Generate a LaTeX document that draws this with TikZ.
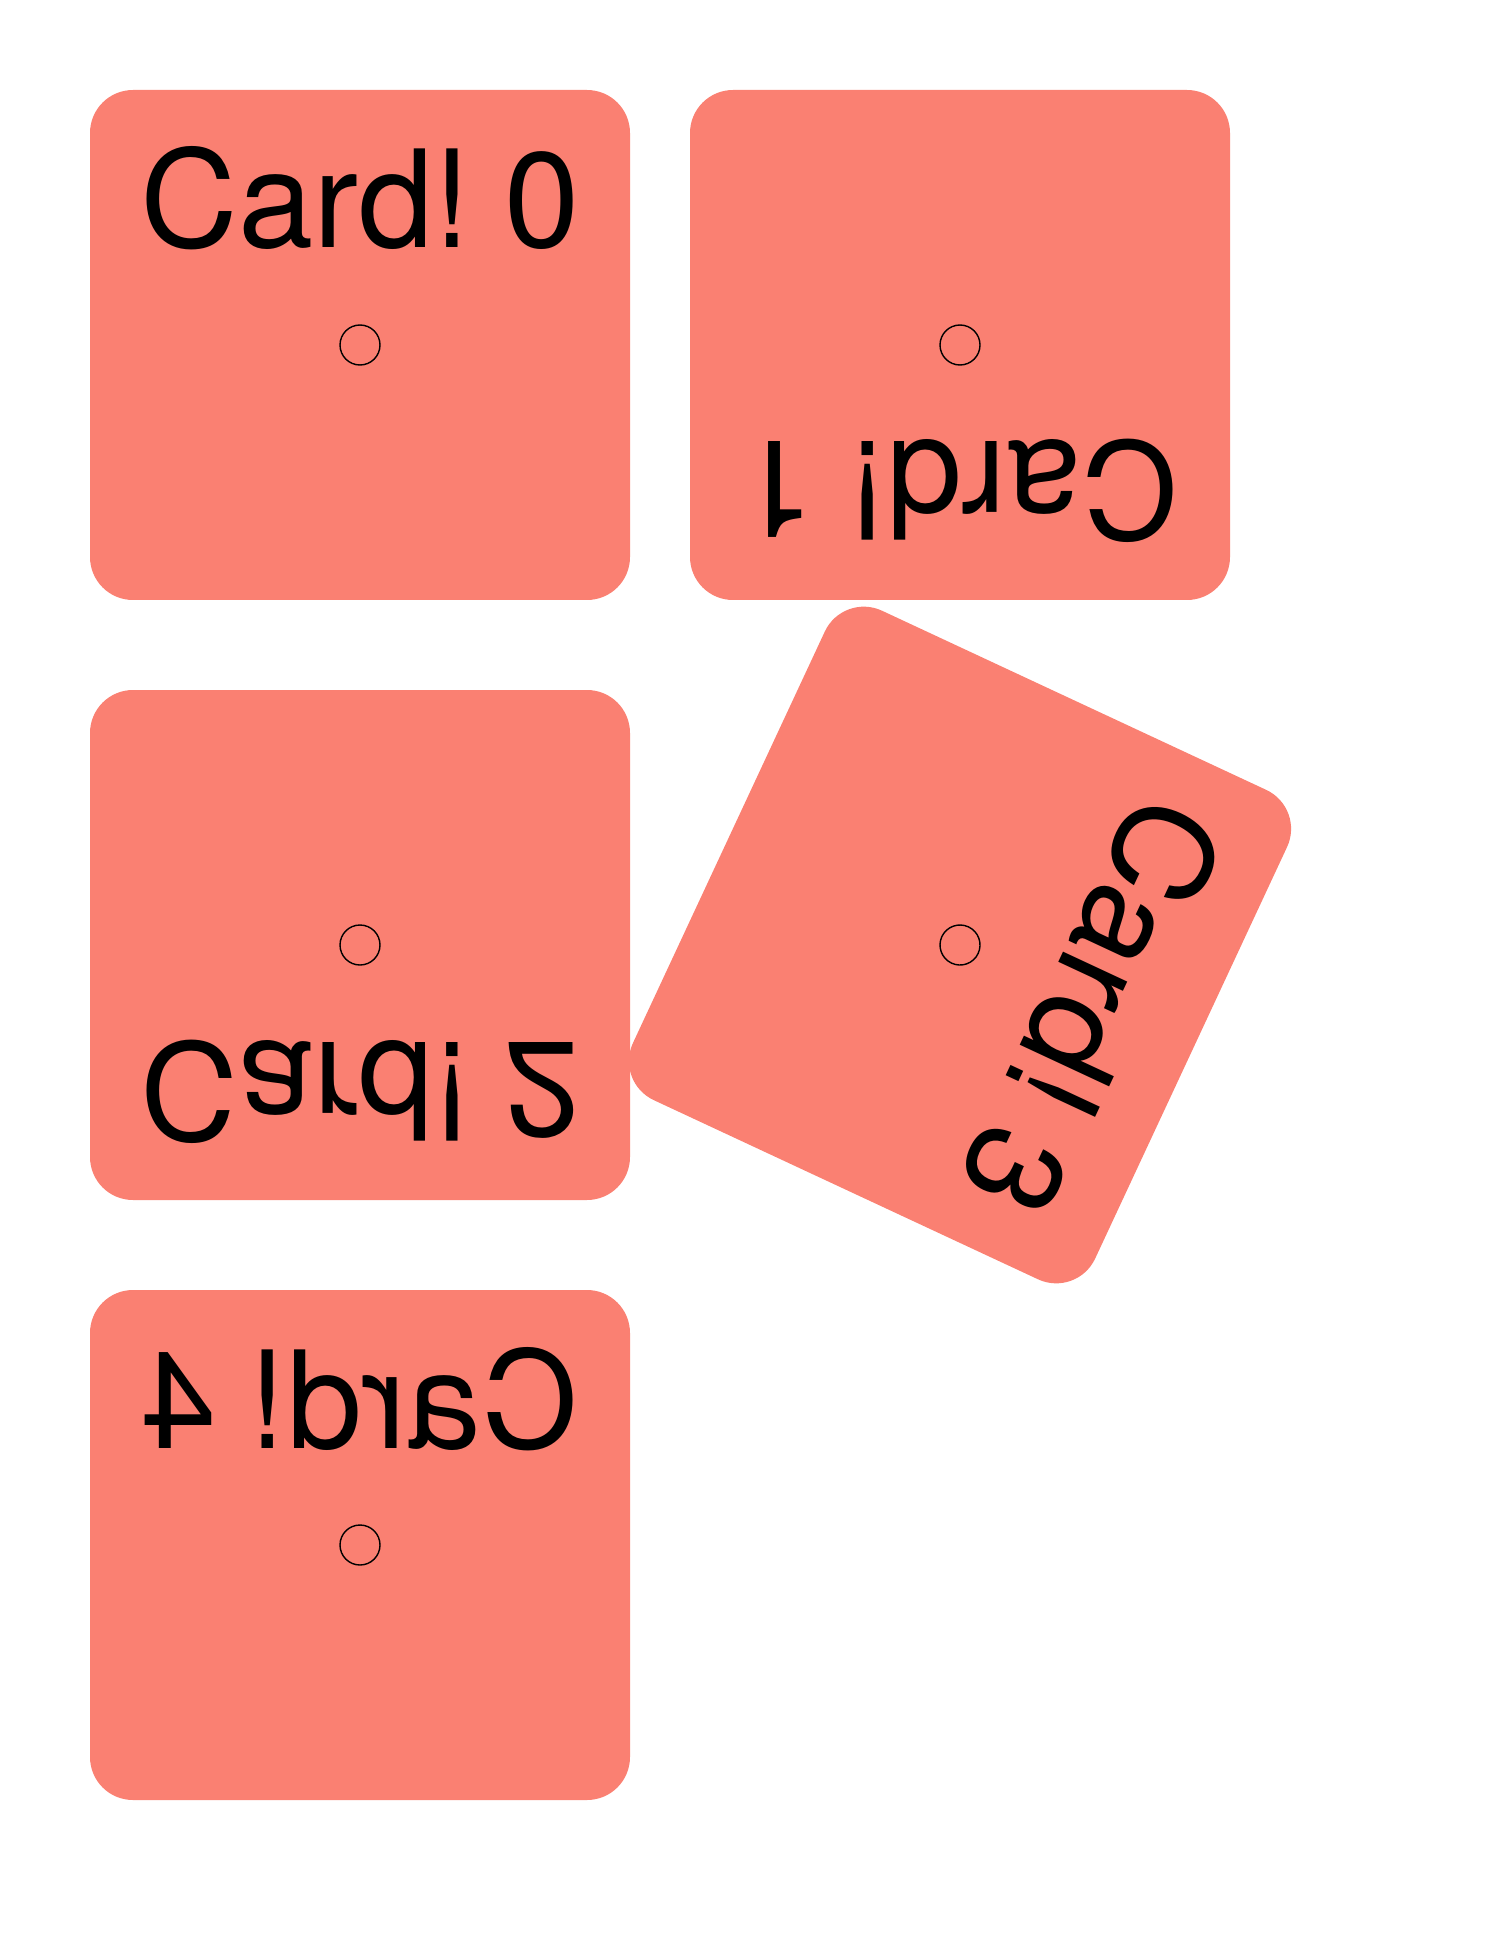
\documentclass[tikz,border=0pt]{standalone}
\usepackage{fontspec}
\setmainfont{TeX Gyre Heros}
\usepackage{tikz}
\definecolor{cardSalmon}{RGB}{250,128,114}

\begin{document}
\begin{tikzpicture}[x=0.1mm, y=-0.1mm,
                    cardbox/.style={fill=cardSalmon, rounded corners=4.3mm,
                                    minimum width=54mm, minimum height=51mm,
                                    inner sep=0pt, transform shape},
                    cardlabel/.style={anchor=base, inner sep=0pt, transform shape,
                                      font=\fontsize{38.5}{46}\selectfont},
                    cardpin/.style={circle, draw, line width=0.4pt,
                                    minimum size=4mm, inner sep=0pt, transform shape}
                   ]
  \useasboundingbox (0,0) rectangle (1500,1950);
  % card / centre x / centre y / rotation / xscale / yscale
  \foreach \i/\cx/\cy/\rot/\sx/\sy in {0/360/345/0/1/1,
                                        1/960/345/180/1/1,
                                        2/360/945/0/1/-1,
                                        3/960/945/245/1/1,
                                        4/360/1545/0/-1/1}{
    \begin{scope}[shift={(\cx,\cy)}, rotate=\rot, xscale=\sx, yscale=\sy]
      \node[cardbox] (card\i) at (0,0) {};
      \node[cardlabel] (label\i) at (0,-97) {Card!\hspace{0.24em}\i};
      \node[cardpin] (pin\i) at (card\i.center) {};
    \end{scope}
  }
\end{tikzpicture}
\end{document}
